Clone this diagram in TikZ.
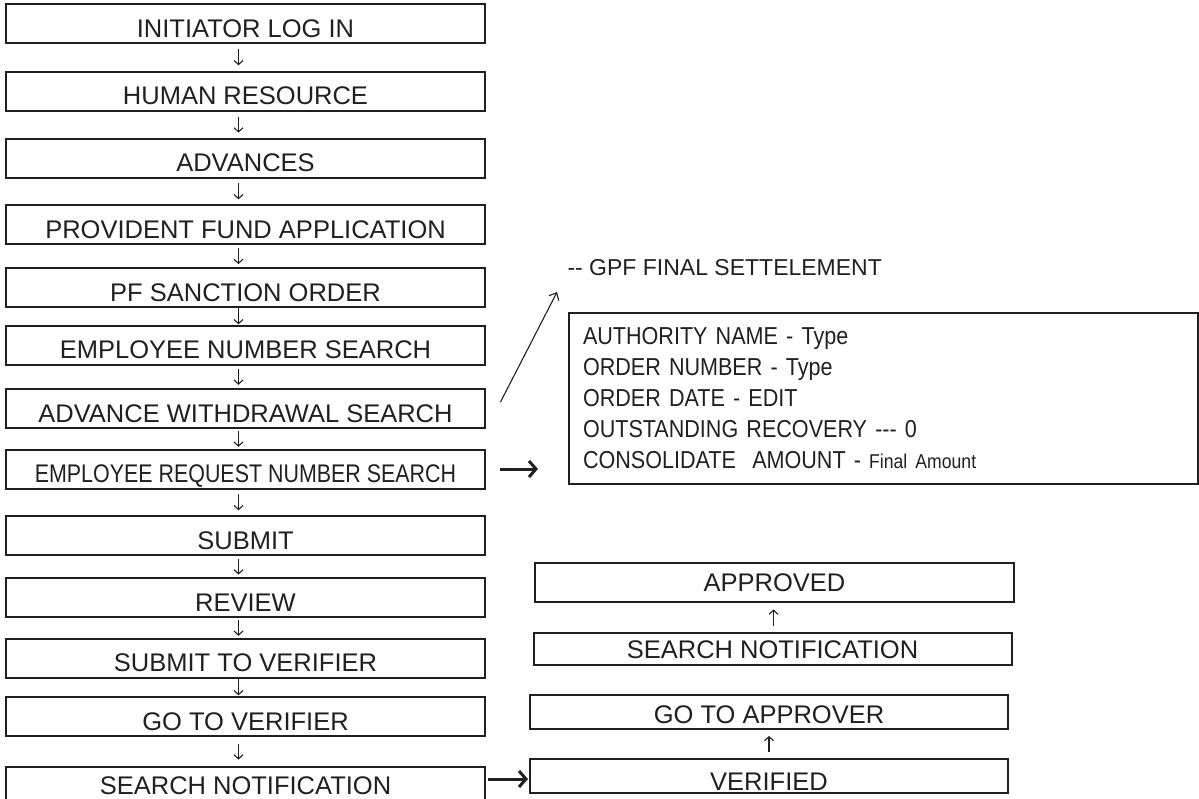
\documentclass[tikz,border=0pt]{standalone}
\usepackage{fontspec}
\setmainfont{Liberation Sans}
\newfontfamily\narrowfont[FakeStretch=0.84]{Liberation Sans}
\newfontfamily\infofamily[FakeStretch=0.88]{Liberation Sans}
\usepackage{tikz}
\usetikzlibrary{positioning,arrows.meta,calc}
\definecolor{ink}{HTML}{231F20}
\newcommand\boxfont{\fontsize{25.5}{30}\selectfont}
\newcommand\infofont{\infofamily\fontsize{24.5}{31}\selectfont}
\tikzset{
  every node/.style={font=\boxfont, text=ink},
  % --- nodes
  box/.style  = {draw=ink, line width=2pt, minimum width=479pt, minimum height=39pt,
                 inner sep=0pt, text height=27pt, text depth=0pt},
  rbox/.style = {box, minimum width=478pt, text height=18pt},
  info/.style = {draw=ink, line width=2pt, minimum width=629pt, minimum height=171pt,
                 text width=601pt, inner xsep=14pt, inner ysep=0pt, align=left, font=\infofont},
  % --- edges
  e/.style    = {-{Straight Barb[length=4pt,width=9pt]}, line width=1.1pt, draw=ink},
  big/.style  = {-{Straight Barb[length=7pt,width=16pt]}, line width=3pt, draw=ink},
}
\begin{document}
\begin{tikzpicture}[x=1pt,y=-1pt]
  \useasboundingbox (0,0) rectangle (1199,798);
  % left column
  \node[box] (l1)  at (245.5,23.5)  {INITIATOR LOG IN};
  \node[box] (l2)  at (245.5,91)    {HUMAN RESOURCE};
  \node[box] (l3)  at (245.5,158)   {ADVANCES};
  \node[box] (l4)  at (245.5,224.5) {PROVIDENT FUND APPLICATION};
  \node[box] (l5)  at (245.5,287.5) {PF SANCTION ORDER};
  \node[box] (l6)  at (245.5,345)   {EMPLOYEE NUMBER SEARCH};
  \node[box] (l7)  at (245.5,408.5) {ADVANCE WITHDRAWAL SEARCH};
  \node[box] (l8)  at (245.5,469)   {\narrowfont EMPLOYEE REQUEST NUMBER SEARCH};
  \node[box] (l9)  at (245.5,535.5) {SUBMIT};
  \node[box] (l10) at (245.5,597.5) {REVIEW};
  \node[box] (l11) at (245.5,658)   {SUBMIT TO VERIFIER};
  \node[box] (l12) at (245.5,716.5) {GO TO VERIFIER};
  \node[box, text height=16pt] (l13) at (245.5,786.5) {SEARCH NOTIFICATION};
  \foreach \a/\b in {l1/l2,l2/l3,l3/l4,l4/l5,l5/l6,l6/l7,l7/l8,l8/l9,l9/l10,l10/l11,l11/l12,l12/l13}
    \draw[e] ($(\a.south)!.5!(\b.north)+(-7,-8)$) -- ($(\a.south)!.5!(\b.north)+(-7,8)$);
  % settlement details
  \node[anchor=base west, font=\fontsize{23}{28}\selectfont] (gpf) at (564,275) {-{}- GPF FINAL SETTELEMENT};
  \node[info, anchor=north west] (info) at (568,312) {AUTHORITY NAME - Type\\
    ORDER NUMBER - Type\\
    ORDER DATE - EDIT\\
    OUTSTANDING RECOVERY -{}-{}- 0\\
    CONSOLIDATE\ \ AMOUNT - {\fontsize{20}{31}\selectfont Final Amount}};
  \draw[e, -{Straight Barb[length=6pt,width=11pt]}] ($(l7.east)+(14.5,-6.5)$) -- ($(gpf.west)+(-7,25)$);
  \draw[big, shorten <=14pt, shorten >=30pt] (l8.east) -- (l8.east -| info.west);
  % right column
  \node[rbox, minimum width=479pt] (r1) at (774.5,582.5) {APPROVED};
  \node[rbox, minimum height=32pt] (r2) at (772.5,649) {SEARCH NOTIFICATION};
  \node[rbox, minimum height=34pt, text height=22pt] (r3) at (769,712) {GO TO APPROVER};
  \node[rbox, minimum height=34pt, text height=28pt] (r4) at (769,776) {VERIFIED};
  \draw[e] ($(r2.north)!.5!(r1.south)+(0,8)$) -- ($(r2.north)!.5!(r1.south)+(0,-8)$);
  \draw[e] ($(r4.north)!.5!(r3.south)+(0,8)$) -- ($(r4.north)!.5!(r3.south)+(0,-8)$);
  \draw[big, shorten >=1pt] ($(l13.east |- r4.west)+(2,3)$) -- ($(r4.west)+(0,3)$);
\end{tikzpicture}
\end{document}
